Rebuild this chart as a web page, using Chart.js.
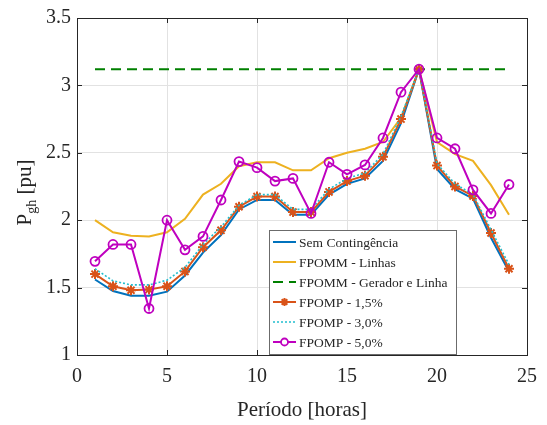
<!DOCTYPE html>
<html>
<head>
<meta charset="utf-8">
<script src="https://cdn.jsdelivr.net/npm/chart.js@4.4.1/dist/chart.umd.min.js"></script>
<style>
  html, body { margin: 0; padding: 0; background: #fff; }
  #wrap { width: 547px; height: 425px; }
</style>
</head>
<body>
<div id="wrap"><canvas id="pgh"></canvas></div>
<script>
const hours = [1, 2, 3, 4, 5, 6, 7, 8, 9, 10, 11, 12, 13, 14, 15, 16, 17, 18, 19, 20, 21, 22, 23, 24];

const semContingencia = [1.56, 1.475, 1.44, 1.44, 1.47, 1.59, 1.76, 1.89, 2.08, 2.15, 2.15, 2.04,
    2.04, 2.19, 2.27, 2.31, 2.44, 2.72, 3.12, 2.38, 2.23, 2.16, 1.87, 1.62];
const fpommLinhas = [2.0, 1.91, 1.885, 1.88, 1.91, 2.01, 2.19, 2.27, 2.40, 2.43, 2.43, 2.37,
    2.37, 2.46, 2.50, 2.53, 2.58, 2.76, 3.12, 2.58, 2.49, 2.44, 2.26, 2.04];
const fpommGerador = [3.12, 3.12, 3.12, 3.12, 3.12, 3.12, 3.12, 3.12, 3.12, 3.12, 3.12, 3.12,
    3.12, 3.12, 3.12, 3.12, 3.12, 3.12, 3.12, 3.12, 3.12, 3.12, 3.12, 3.12];
const fpomp15 = [1.60, 1.51, 1.48, 1.485, 1.51, 1.62, 1.80, 1.925, 2.10, 2.175, 2.175, 2.06,
    2.06, 2.21, 2.29, 2.33, 2.47, 2.75, 3.12, 2.405, 2.25, 2.18, 1.905, 1.64];
const fpomp30 = [1.64, 1.55, 1.52, 1.52, 1.555, 1.65, 1.82, 1.95, 2.11, 2.19, 2.19, 2.08,
    2.08, 2.23, 2.31, 2.35, 2.49, 2.77, 3.12, 2.42, 2.27, 2.19, 1.93, 1.67];
const fpomp50 = [1.695, 1.82, 1.82, 1.345, 2.00, 1.78, 1.88, 2.15, 2.435, 2.39, 2.29, 2.31,
    2.05, 2.43, 2.34, 2.41, 2.61, 2.95, 3.12, 2.61, 2.53, 2.225, 2.05, 2.265];

const xTicks = [0, 5, 10, 15, 20, 25];
const yTicks = [1, 1.5, 2, 2.5, 3, 3.5];

const serif = "'Liberation Serif', 'DejaVu Serif', serif";
const axisColor = "#262626";

const pts = (vals) => hours.map((h, i) => ({ x: h, y: vals[i] }));

const series = [
    { label: "Sem Contingência", data: pts(semContingencia), borderColor: "#0072BD", borderWidth: 2 },
    { label: "FPOMM - Linhas", data: pts(fpommLinhas), borderColor: "#EDB120", borderWidth: 2 },
    { label: "FPOMM - Gerador e Linha", data: pts(fpommGerador), borderColor: "#008000", borderWidth: 2, borderDash: [10, 6] },
    { label: "FPOMP - 1,5%", data: pts(fpomp15), borderColor: "#D95319", borderWidth: 2,
      pointStyle: "star", pointRadius: 5, pointBorderWidth: 2 },
    { label: "FPOMP - 3,0%", data: pts(fpomp30), borderColor: "#22BFCF", borderWidth: 1.6, borderDash: [2, 2] },
    { label: "FPOMP - 5,0%", data: pts(fpomp50), borderColor: "#BF00BF", borderWidth: 2,
      pointStyle: "circle", pointRadius: 4.5, pointBorderWidth: 1.8 },
];

// later series sit on top, like the plotting order
const datasets = series.map((s, i) => Object.assign({
    fill: false,
    tension: 0,
    pointRadius: 0,
    pointBackgroundColor: "rgba(0,0,0,0)",
    pointBorderColor: s.borderColor,
    order: series.length - i,
}, s));

const framePlugin = {
    id: "frame",
    afterDraw(chart) {
        const { ctx, chartArea: a, scales } = chart;
        ctx.save();
        // box and inward ticks
        ctx.strokeStyle = axisColor;
        ctx.lineWidth = 1;
        ctx.strokeRect(Math.round(a.left) + 0.5, Math.round(a.top) + 0.5,
            Math.round(a.right - a.left), Math.round(a.bottom - a.top));
        const tl = 5;
        ctx.beginPath();
        xTicks.forEach((t) => {
            const x = Math.round(scales.x.getPixelForValue(t)) + 0.5;
            ctx.moveTo(x, a.bottom); ctx.lineTo(x, a.bottom - tl);
            ctx.moveTo(x, a.top); ctx.lineTo(x, a.top + tl);
        });
        yTicks.forEach((t) => {
            const y = Math.round(scales.y.getPixelForValue(t)) + 0.5;
            ctx.moveTo(a.left, y); ctx.lineTo(a.left + tl, y);
            ctx.moveTo(a.right, y); ctx.lineTo(a.right - tl, y);
        });
        ctx.stroke();

        // axis titles
        ctx.fillStyle = axisColor;
        ctx.textBaseline = "alphabetic";
        ctx.font = "21px " + serif;
        ctx.textAlign = "center";
        ctx.fillText("Período [horas]", (a.left + a.right) / 2, 416);

        ctx.translate(31, (a.top + a.bottom) / 2 + 6);
        ctx.rotate(-Math.PI / 2);
        const big = "21px " + serif, small = "14px " + serif;
        ctx.font = big; const wP = ctx.measureText("P").width;
        ctx.font = small; const wSub = ctx.measureText("gh").width;
        ctx.font = big; const wRest = ctx.measureText(" [pu]").width;
        let x0 = -(wP + wSub + wRest) / 2;
        ctx.textAlign = "left";
        ctx.fillText("P", x0, 0);
        ctx.font = small;
        ctx.fillText("gh", x0 + wP, 5);
        ctx.font = big;
        ctx.fillText(" [pu]", x0 + wP + wSub, 0);
        ctx.restore();

        // legend box
        ctx.save();
        const lx = 269, ly = 230, lw = 187, lh = 124;
        ctx.fillStyle = "#fff";
        ctx.fillRect(lx, ly, lw, lh);
        ctx.strokeStyle = "#6b6b6b";
        ctx.lineWidth = 1;
        ctx.strokeRect(lx + 0.5, ly + 0.5, lw, lh);
        ctx.font = "13.5px " + serif;
        ctx.textBaseline = "middle";
        ctx.textAlign = "left";
        datasets.forEach((d, i) => {
            const y = ly + 12 + i * 20;
            ctx.strokeStyle = d.borderColor;
            ctx.lineWidth = d.borderWidth;
            ctx.setLineDash(d.borderDash || []);
            ctx.beginPath();
            ctx.moveTo(lx + 4, y); ctx.lineTo(lx + 27, y);
            ctx.stroke();
            ctx.setLineDash([]);
            if (d.pointRadius > 0) {
                ctx.lineWidth = d.pointBorderWidth;
                ctx.fillStyle = "#fff";
                Chart.helpers.drawPoint(ctx, {
                    pointStyle: d.pointStyle, radius: d.pointRadius - 1,
                    borderWidth: d.pointBorderWidth, rotation: 0,
                }, lx + 15.5, y);
            }
            ctx.fillStyle = axisColor;
            ctx.fillText(d.label, lx + 30, y + 1);
        });
        ctx.restore();
    },
};

new Chart(document.getElementById("pgh"), {
    type: "line",
    data: { datasets },
    options: {
        responsive: true,
        maintainAspectRatio: false,
        animation: false,
        layout: { padding: { top: 17, right: 17, left: 0, bottom: 0 } },
        plugins: { legend: { display: false }, tooltip: { enabled: false } },
        scales: {
            x: {
                type: "linear",
                min: 0,
                max: 25,
                afterBuildTicks: (s) => { s.ticks = xTicks.map((v) => ({ value: v })); },
                afterFit: (s) => { s.height = 70; },
                ticks: { color: axisColor, font: { family: serif, size: 20 }, padding: 10,
                         callback: (v) => String(v) },
                grid: { color: "#e2e2e2", drawTicks: false },
                border: { display: false },
            },
            y: {
                min: 1,
                max: 3.5,
                afterBuildTicks: (s) => { s.ticks = yTicks.map((v) => ({ value: v })); },
                afterFit: (s) => { s.width = 77; },
                ticks: { color: axisColor, font: { family: serif, size: 20 }, padding: 6,
                         callback: (v) => String(v) },
                grid: { color: "#e2e2e2", drawTicks: false },
                border: { display: false },
            },
        },
    },
    plugins: [framePlugin],
});
</script>
</body>
</html>
